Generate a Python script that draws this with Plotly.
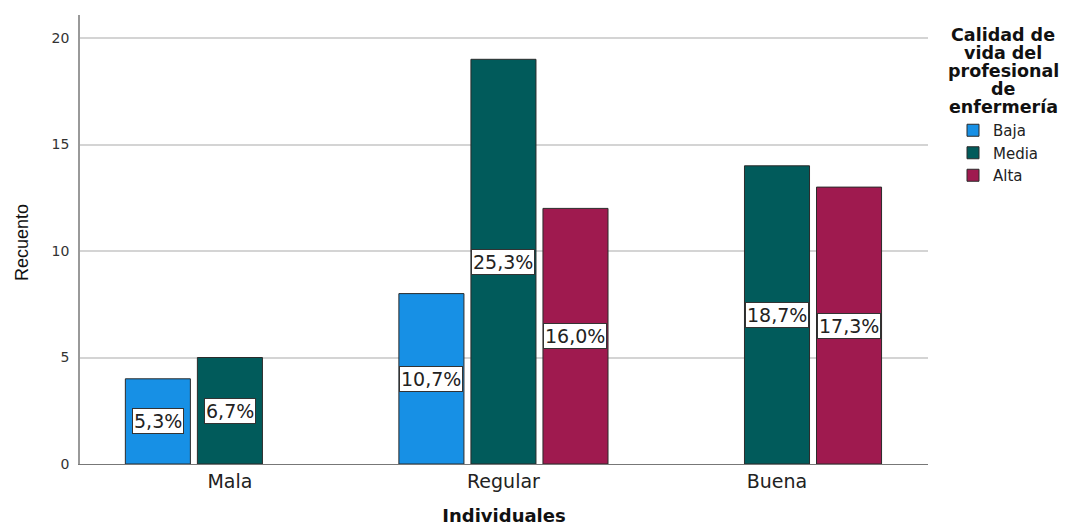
import plotly.graph_objects as go

# Recuento por categoría de la variable "Individuales" y nivel de calidad de vida
categorias = ["Mala", "Regular", "Buena"]
niveles = ["Baja", "Media", "Alta"]
recuento_baja = [4, 8, None]
recuento_media = [5, 19, 14]
recuento_alta = [None, 12, 13]
total_casos = 75
y_ticks = [0, 5, 10, 15, 20]

colores = {"Baja": "#1790e5", "Media": "#015b5b", "Alta": "#9f1a4f"}
series = {"Baja": recuento_baja, "Media": recuento_media, "Alta": recuento_alta}

W, H = 1069, 526
M_L, M_R, M_T, M_B = 80, 141, 15, 62
X_RANGE = [-0.548, 2.552]
Y_RANGE = [0, 21.08]
BARGAP = 0.21
BARGROUPGAP = 0.097

FONT = "DejaVu Sans"
FONT_B = "DejaVu Sans"

fig = go.Figure()
for nivel in niveles:
    fig.add_trace(go.Bar(
        x=categorias,
        y=series[nivel],
        name=nivel,
        marker=dict(color=colores[nivel], line=dict(color="#2b2b2b", width=1)),
        hoverinfo="x+y+name",
    ))

# etiquetas de porcentaje en el centro de cada barra
plot_w = W - M_L - M_R
plot_h = H - M_T - M_B
px_por_cat = plot_w / (X_RANGE[1] - X_RANGE[0])
slot = px_por_cat * (1 - BARGAP) / len(niveles)
annotations = []
for j, nivel in enumerate(niveles):
    for cat, v in zip(categorias, series[nivel]):
        if v is None:
            continue
        pct = f"{v / total_casos * 100:.1f}".replace(".", ",") + "%"
        annotations.append(dict(
            x=cat, y=v / 2, xref="x", yref="y",
            text=pct, showarrow=False,
            xshift=(j - 1) * slot,
            font=dict(family=FONT, size=19, color="#222"),
            bgcolor="white", bordercolor="#333", borderwidth=1, borderpad=1,
            xanchor="center", yanchor="middle",
        ))

# título de la leyenda, una línea por anotación
titulo_leyenda = ["Calidad de", "vida del", "profesional", "de", "enfermería"]
for i, linea in enumerate(titulo_leyenda):
    py = 35 + i * 18
    annotations.append(dict(
        x=(1003 - M_L) / plot_w, y=(H - M_B - py) / plot_h,
        xref="paper", yref="paper", text=f"<b>{linea}</b>", showarrow=False,
        font=dict(family=FONT_B, size=17.5, color="#111"),
        xanchor="center", yanchor="middle",
    ))

# título del eje Y
annotations.append(dict(
    x=-(M_L - 22) / plot_w, y=(H - M_B - 243) / plot_h,
    xref="paper", yref="paper", text="Recuento", showarrow=False,
    textangle=-90, font=dict(family="Liberation Sans Narrow, Liberation Sans", size=18, color="#111"),
    xanchor="center", yanchor="middle",
))

fig.update_layout(
    width=W, height=H,
    margin=dict(l=M_L, r=M_R, t=M_T, b=M_B, autoexpand=False),
    paper_bgcolor="white", plot_bgcolor="white",
    barmode="group", bargap=BARGAP, bargroupgap=BARGROUPGAP,
    annotations=annotations,
    showlegend=True,
    legend=dict(
        x=(953 - M_L) / plot_w, y=(H - M_B - 114) / plot_h,
        xanchor="left", yanchor="top",
        font=dict(family=FONT, size=15, color="#222"),
        bgcolor="rgba(0,0,0,0)", itemwidth=30, tracegroupgap=0,
    ),
    xaxis=dict(
        range=X_RANGE, showgrid=False, zeroline=False, automargin=False,
        showline=True, linecolor="#777", linewidth=1,
        ticks="", tickfont=dict(family=FONT, size=19, color="#222"),
        title=dict(text="<b>Individuales</b>", font=dict(family=FONT_B, size=18, color="#111"), standoff=23),
    ),
    yaxis=dict(
        range=Y_RANGE, tickvals=y_ticks, showgrid=True, gridcolor="#d4d4d4", gridwidth=1.5,
        zeroline=False, showline=True, linecolor="#999", linewidth=1.5, automargin=False,
        ticks="", tickfont=dict(family=FONT, size=14, color="#333"), ticklabelstandoff=6,
    ),
)

fig.write_html("out.html")
